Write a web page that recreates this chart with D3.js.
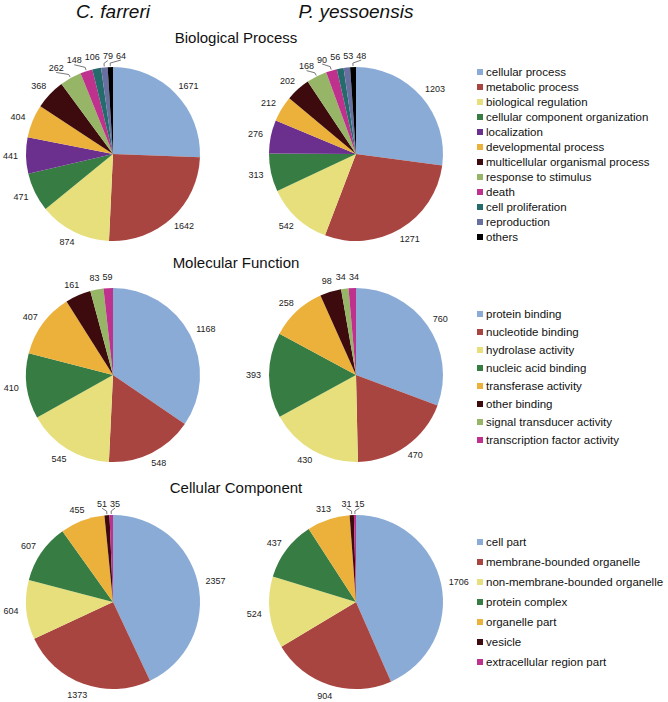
<!DOCTYPE html>
<html>
<head>
<meta charset="utf-8">
<script src="https://cdn.jsdelivr.net/npm/d3@7"></script>
<style>
  html, body { margin: 0; padding: 0; background: #fff; }
  svg { display: block; }
</style>
</head>
<body>
<svg id="chart" width="668" height="702"></svg>
<script>
// ---------------- data ----------------
const species = ["C. farreri", "P. yessoensis"];
const sectionTitles = ["Biological Process", "Molecular Function", "Cellular Component"];

const bpCategories = ["cellular process", "metabolic process", "biological regulation",
  "cellular component organization", "localization", "developmental process",
  "multicellular organismal process", "response to stimulus", "death",
  "cell proliferation", "reproduction", "others"];
const bpFarreri = [1671, 1642, 874, 471, 441, 404, 368, 262, 148, 106, 79, 64];
const bpYesso   = [1203, 1271, 542, 313, 276, 212, 202, 168, 90, 56, 53, 48];
const bpColors  = ["#8aabd5", "#a94541", "#e6df7b", "#367c43", "#6b2f8e", "#ebb13b",
  "#3d0b0e", "#97b567", "#be318d", "#256b6b", "#6870a2", "#000000"];

const mfCategories = ["protein binding", "nucleotide binding", "hydrolase activity",
  "nucleic acid binding", "transferase activity", "other binding",
  "signal transducer activity", "transcription factor activity"];
const mfFarreri = [1168, 548, 545, 410, 407, 161, 83, 59];
const mfYesso   = [760, 470, 430, 393, 258, 98, 34, 34];
const mfColors  = ["#8aabd5", "#a94541", "#e6df7b", "#367c43", "#ebb13b", "#3d0b0e", "#97b567", "#be318d"];

const ccCategories = ["cell part", "membrane-bounded organelle", "non-membrane-bounded organelle",
  "protein complex", "organelle part", "vesicle", "extracellular region part"];
const ccFarreri = [2357, 1373, 604, 607, 455, 51, 35];
const ccYesso   = [1706, 904, 524, 437, 313, 31, 15];
const ccColors  = ["#8aabd5", "#a94541", "#e6df7b", "#367c43", "#ebb13b", "#3d0b0e", "#be318d"];

// ---------------- layout ----------------
const svg = d3.select("#chart");
const FONT = "'Liberation Sans', Arial, Helvetica, sans-serif";
const R = 87;
const colX = [113, 356];
const sections = [
  { cats: bpCategories, vals: [bpFarreri, bpYesso], colors: bpColors, cy: 154, titleY: 43, legY0: 72, legStep: 15 },
  { cats: mfCategories, vals: [mfFarreri, mfYesso], colors: mfColors, cy: 375, titleY: 268, legY0: 314, legStep: 18 },
  { cats: ccCategories, vals: [ccFarreri, ccYesso], colors: ccColors, cy: 602, titleY: 493, legY0: 542, legStep: 20 }
];

// species headers
species.forEach((s, i) => {
  svg.append("text").attr("x", colX[i]).attr("y", 18)
    .attr("text-anchor", "middle").attr("font-family", FONT)
    .attr("font-style", "italic").attr("font-size", 19).attr("fill", "#111").text(s);
});

const pie = d3.pie().sort(null).value(d => d);
const arc = d3.arc().innerRadius(0).outerRadius(R);
const LFS = 9; // label font size

function layoutLabels(arcs) {
  const gap = 7, h = 9;
  const labs = arcs.map(a => {
    const mid = (a.startAngle + a.endAngle) / 2;
    const s = Math.sin(mid), c = -Math.cos(mid);
    const txt = String(a.data);
    const w = txt.length * 0.556 * LFS + 2;
    const x = s * (R + gap) + s * w / 2;
    const y = c * (R + gap) + c * h / 2;
    return { a, mid, s, c, txt, w, h, x, y, x0: x, y0: y };
  });
  for (let it = 0; it < 300; it++) {
    let moved = false;
    for (let i = 0; i < labs.length; i++) {
      for (let j = i + 1; j < labs.length; j++) {
        const A = labs[i], B = labs[j];
        const ox = (A.w + B.w) / 2 + 1 - Math.abs(A.x - B.x);
        const oy = (A.h + B.h) / 2 - Math.abs(A.y - B.y);
        if (ox > 0 && oy > 0) {
          const sh = ox / 2 + 0.05;
          if (A.x <= B.x) { A.x -= sh; B.x += sh; } else { A.x += sh; B.x -= sh; }
          moved = true;
        }
      }
    }
    if (!moved) break;
  }
  return labs;
}

sections.forEach((sec, si) => {
  // section title
  svg.append("text").attr("x", 236).attr("y", sec.titleY)
    .attr("text-anchor", "middle").attr("font-family", FONT)
    .attr("font-size", 15).attr("fill", "#111").text(sectionTitles[si]);

  const color = d3.scaleOrdinal().domain(sec.cats).range(sec.colors);

  sec.vals.forEach((vals, ci) => {
    const g = svg.append("g").attr("transform", `translate(${colX[ci]},${sec.cy})`);
    const arcs = pie(vals);
    g.selectAll("path.slice").data(arcs).join("path")
      .attr("class", "slice")
      .attr("d", arc)
      .attr("fill", (d, i) => color(sec.cats[i]));

    const labs = layoutLabels(arcs);
    // leader lines
    labs.filter(l => Math.hypot(l.x - l.x0, l.y - l.y0) > 3).forEach(l => {
      const px = l.s * (R + 1), py = l.c * (R + 1);
      const tx = l.x, ty = l.y + (l.c < 0 ? l.h / 2 : -l.h / 2);
      g.append("path")
        .attr("d", d3.line()([[px, py], [px + l.s * 3, py + l.c * 3], [tx, ty]]))
        .attr("fill", "none").attr("stroke", "#555").attr("stroke-width", 0.8);
    });
    g.selectAll("text.lab").data(labs).join("text")
      .attr("class", "lab")
      .attr("x", d => d.x).attr("y", d => d.y)
      .attr("text-anchor", "middle").attr("dominant-baseline", "central")
      .attr("font-family", FONT).attr("font-size", LFS).attr("fill", "#222")
      .text(d => d.txt);
  });

  // legend
  const ly = d3.scaleLinear().domain([0, 1]).range([sec.legY0, sec.legY0 + sec.legStep]);
  const leg = svg.append("g");
  const items = leg.selectAll("g").data(sec.cats).join("g")
    .attr("transform", (d, i) => `translate(477,${ly(i)})`);
  items.append("rect").attr("x", 0).attr("y", -3).attr("width", 6).attr("height", 6)
    .attr("fill", d => color(d));
  items.append("text").attr("x", 9).attr("y", 0).attr("dominant-baseline", "central")
    .attr("font-family", FONT).attr("font-size", 11.5).attr("fill", "#111").text(d => d);
});
</script>
</body>
</html>
